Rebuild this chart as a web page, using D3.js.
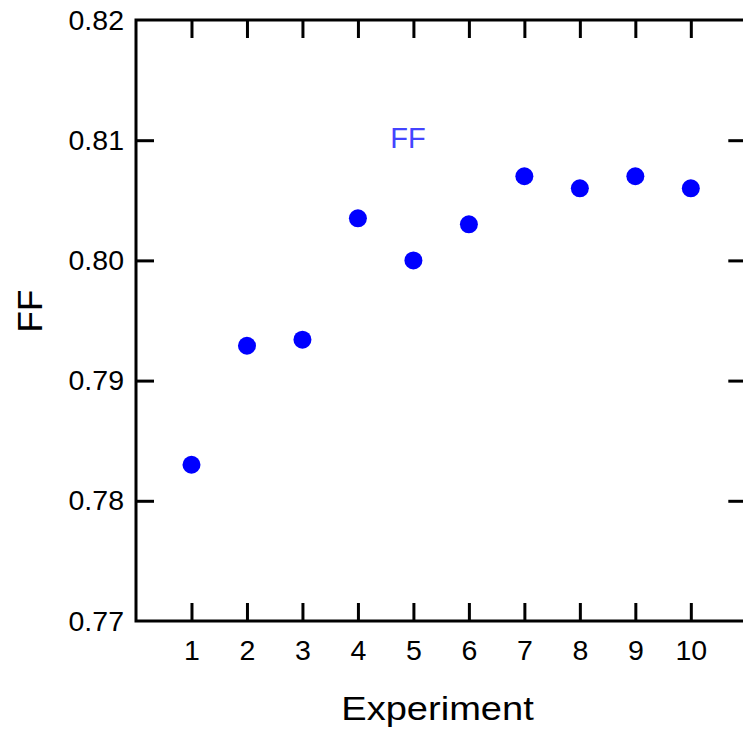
<!DOCTYPE html>
<html>
<head>
<meta charset="utf-8">
<script src="https://cdn.jsdelivr.net/npm/d3@7"></script>
<style>
  html, body { margin: 0; padding: 0; background: #fff; overflow: hidden; }
  svg { display: block; font-family: Arial, "Liberation Sans", sans-serif; }
</style>
</head>
<body>
<svg id="chart" width="743" height="733"></svg>
<script>
// Fill factor per experiment
const experiments = [1, 2, 3, 4, 5, 6, 7, 8, 9, 10];
const ffValues = [0.783, 0.7929, 0.7934, 0.8035, 0.800, 0.803, 0.807, 0.806, 0.807, 0.806];
const yTicks = [0.77, 0.78, 0.79, 0.80, 0.81, 0.82];
const xTicks = [1, 2, 3, 4, 5, 6, 7, 8, 9, 10];
const seriesName = "FF";

const svg = d3.select("#chart");
const margin = { left: 136, top: 20, bottom: 112 };
const plotRight = 746.3;
const height = 733;

const x = d3.scaleLinear().domain([0, 11]).range([margin.left, plotRight]);
const y = d3.scaleLinear().domain([0.77, 0.82]).range([height - margin.bottom, margin.top]);

const tickLen = 18;
const fmt = d3.format(".2f");

// Frame
svg.append("rect")
  .attr("x", x(0)).attr("y", y(0.82))
  .attr("width", x(11) - x(0)).attr("height", y(0.77) - y(0.82))
  .attr("fill", "none").attr("stroke", "#000").attr("stroke-width", 3);

// Bottom axis (ticks point inward)
const axBottom = svg.append("g").attr("transform", `translate(0,${y(0.77)})`)
  .call(d3.axisBottom(x).tickValues(xTicks).tickSize(-tickLen).tickPadding(39).tickFormat(d3.format("d")));
// Top axis ticks
const axTop = svg.append("g").attr("transform", `translate(0,${y(0.82)})`)
  .call(d3.axisTop(x).tickValues(xTicks).tickSize(-tickLen).tickFormat(""));
// Left axis
const axLeft = svg.append("g").attr("transform", `translate(${x(0)},0)`)
  .call(d3.axisLeft(y).tickValues(yTicks).tickSize(-tickLen).tickPadding(12).tickFormat(fmt));
// Right axis ticks
const axRight = svg.append("g").attr("transform", `translate(${x(11)},0)`)
  .call(d3.axisRight(y).tickValues(yTicks).tickSize(-tickLen).tickFormat(""));

[axBottom, axTop, axLeft, axRight].forEach(g => {
  g.select(".domain").remove();
  g.selectAll(".tick line").attr("stroke", "#000").attr("stroke-width", 3);
  g.selectAll(".tick text").attr("fill", "#000").attr("font-size", 28.5)
    .attr("font-family", "Arial, 'Liberation Sans', sans-serif");
});
// Hide end ticks that coincide with the frame
axLeft.selectAll(".tick").filter(d => d === 0.77 || d === 0.82).select("line").remove();
axRight.selectAll(".tick").filter(d => d === 0.77 || d === 0.82).select("line").remove();
axBottom.selectAll(".tick text").attr("dy", "0");

// Points
svg.append("g").selectAll("circle")
  .data(experiments.map((e, i) => ({ e, v: ffValues[i] })))
  .join("circle")
  .attr("cx", d => x(d.e))
  .attr("cy", d => y(d.v))
  .attr("r", 9)
  .attr("fill", "#0000ff");

// Series label inside the plot
svg.append("text")
  .attr("x", 408).attr("y", 148)
  .attr("text-anchor", "middle")
  .attr("font-size", 29)
  .attr("fill", "#4444ff")
  .text(seriesName);

// Axis titles
svg.append("text")
  .attr("transform", `translate(437.5,720) scale(1.12,1)`)
  .attr("text-anchor", "middle")
  .attr("font-size", 34)
  .attr("fill", "#000")
  .text("Experiment");

svg.append("text")
  .attr("transform", `translate(42,311) rotate(-90)`)
  .attr("text-anchor", "middle")
  .attr("font-size", 35)
  .attr("fill", "#000")
  .text("FF");
</script>
</body>
</html>
